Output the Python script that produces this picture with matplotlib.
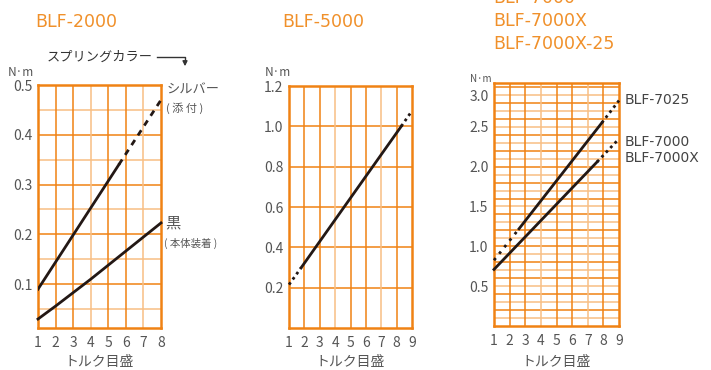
import matplotlib
matplotlib.use("Agg")
import matplotlib.pyplot as plt
from matplotlib.lines import Line2D
from matplotlib.patches import FancyArrowPatch
from matplotlib.transforms import ScaledTranslation

plt.rcParams['font.family'] = ['Noto Sans CJK JP', 'DejaVu Sans']

W, H = 711, 370
ORANGE = '#f08214'
LIGHT = '#f8bf84'
TITLE = '#f0902a'
GRAY = '#555555'
INK = '#231815'

# BLF-2000 (torque scale 1..8, N·m)
silver_x = [1, 5.6, 8]
silver_y = [0.09, 0.34, 0.47]
black_x = [1, 2, 4, 8]
black_y = [0.03, 0.056, 0.11, 0.223]
ticks_2000 = [0.1, 0.2, 0.3, 0.4, 0.5]

# BLF-5000 (torque scale 1..9)
b5000_x = [1, 1.8, 8.3, 9]
b5000_y = [0.215, 0.30, 1.0, 1.077]
ticks_5000 = [0.2, 0.4, 0.6, 0.8, 1.0, 1.2]

# BLF-7000 series
b7025_x = [1, 2.6, 7.9, 9]
b7025_y = [0.825, 1.22, 2.55, 2.83]
b7000_x = [1, 7.6, 9]
b7000_y = [0.71, 2.06, 2.35]
ticks_7000 = [0.5, 1.0, 1.5, 2.0, 2.5, 3.0]


def fx(x):
    return x / W


def fy(y):
    return 1 - y / H


def box(l, t, r, b):
    return [fx(l), fy(b), (r - l) / W, (b - t) / H]


def setup(ax, xmax, ylim, hlines, yticks, ylabels):
    ax.set_xlim(1, xmax)
    ax.set_ylim(*ylim)
    for v, c in hlines:
        ax.axhline(v, color=c, lw=1.1, zorder=1)
    for v in range(2, xmax):
        ax.axvline(v, color=LIGHT if v in (4, 7) else ORANGE, lw=1.1, zorder=1)
    for s in ax.spines.values():
        s.set_color(ORANGE)
        s.set_linewidth(1.8)
    ax.set_xticks(range(1, xmax + 1))
    ax.set_xticklabels([str(i) for i in range(1, xmax + 1)])
    ax.set_yticks(yticks)
    ax.set_yticklabels(ylabels)
    ax.tick_params(length=0, labelsize=10, colors=GRAY, pad=4)
    ax.tick_params(axis='x', pad=6)
    # axis caption placed under the tick numbers
    l, r = ax.get_position().x0, ax.get_position().x1
    fig.text((l + r) / 2, fy(362), 'トルク目盛', fontsize=10, color=GRAY, ha='center', va='center')


fig = plt.figure(figsize=(W / 100, H / 100), dpi=100)

# ---- BLF-2000
ax1 = fig.add_axes(box(38, 85, 161, 328))
h1 = [(k * 0.05, ORANGE if k % 2 == 0 else LIGHT) for k in range(1, 10)]
setup(ax1, 8, (0.012, 0.5), h1, ticks_2000, ['0.1', '0.2', '0.3', '0.4', '0.5'])
ax1.plot(silver_x[:2], silver_y[:2], color=INK, lw=2, zorder=3)
ax1.plot(silver_x[1:], silver_y[1:], color=INK, lw=2, ls=(0, (2.2, 2)), zorder=3, clip_on=False)
ax1.plot(black_x, black_y, color=INK, lw=2, zorder=3, clip_on=False)

# ---- BLF-5000
ax2 = fig.add_axes(box(289, 86, 412, 328))
h2 = [(v, ORANGE) for v in ticks_5000[:-1]]
setup(ax2, 9, (0, 1.2), h2, ticks_5000, ['0.2', '0.4', '0.6', '0.8', '1.0', '1.2'])
ax2.plot(b5000_x[:2], b5000_y[:2], color=INK, lw=2, ls=(0, (1, 1.3)), zorder=3, clip_on=False)
ax2.plot(b5000_x[1:3], b5000_y[1:3], color=INK, lw=2, zorder=3)
ax2.plot(b5000_x[2:], b5000_y[2:], color=INK, lw=2, ls=(0, (1, 1.3)), zorder=3, clip_on=False)

# ---- BLF-7000
ax3 = fig.add_axes(box(494, 83, 619, 326))
h3 = [(k * 0.1, ORANGE if k % 2 == 0 else LIGHT) for k in range(1, 31)]
setup(ax3, 9, (0, 3.05), h3, ticks_7000, ['0.5', '1.0', '1.5', '2.0', '2.5', '3.0'])
# the top number sits a little below its line in the original
top = ax3.get_yticklabels()[-1]
top.set_transform(top.get_transform() + ScaledTranslation(0, -6 / 72, fig.dpi_scale_trans))
ax3.plot(b7025_x[:2], b7025_y[:2], color=INK, lw=2, ls=(0, (1, 2)), zorder=3, clip_on=False)
ax3.plot(b7025_x[1:3], b7025_y[1:3], color=INK, lw=2, zorder=3)
ax3.plot(b7025_x[2:], b7025_y[2:], color=INK, lw=2, ls=(0, (1, 1.3)), zorder=3, clip_on=False)
ax3.plot(b7000_x[:2], b7000_y[:2], color=INK, lw=2, zorder=3, clip_on=False)
ax3.plot(b7000_x[1:], b7000_y[1:], color=INK, lw=2, ls=(0, (1, 1.3)), zorder=3, clip_on=False)

# titles
fig.text(fx(35), fy(22), 'BLF-2000', color=TITLE, fontsize=12.5, va='center', family='DejaVu Sans')
fig.text(fx(282), fy(22), 'BLF-5000', color=TITLE, fontsize=12.5, va='center', family='DejaVu Sans')
for i, t in enumerate(['BLF-7000', 'BLF-7000X', 'BLF-7000X-25']):
    fig.text(fx(493), fy(-2 + 23 * i), t, color=TITLE, fontsize=12.5, va='center', family='DejaVu Sans')

# unit labels
fig.text(fx(8), fy(72), 'N·m', color=GRAY, fontsize=8.5, va='center')
fig.text(fx(265), fy(72), 'N·m', color=GRAY, fontsize=8.5, va='center')
fig.text(fx(470), fy(79), 'N·m', color=GRAY, fontsize=7, va='center')

# spring colour callout
fig.text(fx(47), fy(57), 'スプリングカラー', color='#333333', fontsize=9.5, va='center')
fig.add_artist(Line2D([fx(157), fx(185), fx(185)], [fy(57), fy(57), fy(62)],
                      transform=fig.transFigure, color='#333333', lw=1))
fig.add_artist(FancyArrowPatch((fx(185), fy(60)), (fx(185), fy(69)), transform=fig.transFigure,
                               arrowstyle='-|>', mutation_scale=7, color='#333333', lw=1))

fig.text(fx(167), fy(90), 'シルバー', color=GRAY, fontsize=9.5, va='center')
fig.text(fx(166), fy(108), '( 添 付 )', color=GRAY, fontsize=8, va='center')
fig.text(fx(165), fy(223), '黒', color=GRAY, fontsize=11, va='center')
fig.text(fx(164), fy(243), '( 本体装着 )', color=GRAY, fontsize=7.5, va='center')

# series labels for BLF-7000
fig.text(fx(625), fy(100), 'BLF-7025', color='#444444', fontsize=10, va='center', family='DejaVu Sans')
fig.text(fx(625), fy(142), 'BLF-7000', color='#444444', fontsize=10, va='center', family='DejaVu Sans')
fig.text(fx(625), fy(158), 'BLF-7000X', color='#444444', fontsize=10, va='center', family='DejaVu Sans')

fig.savefig('out.png', dpi=100)
